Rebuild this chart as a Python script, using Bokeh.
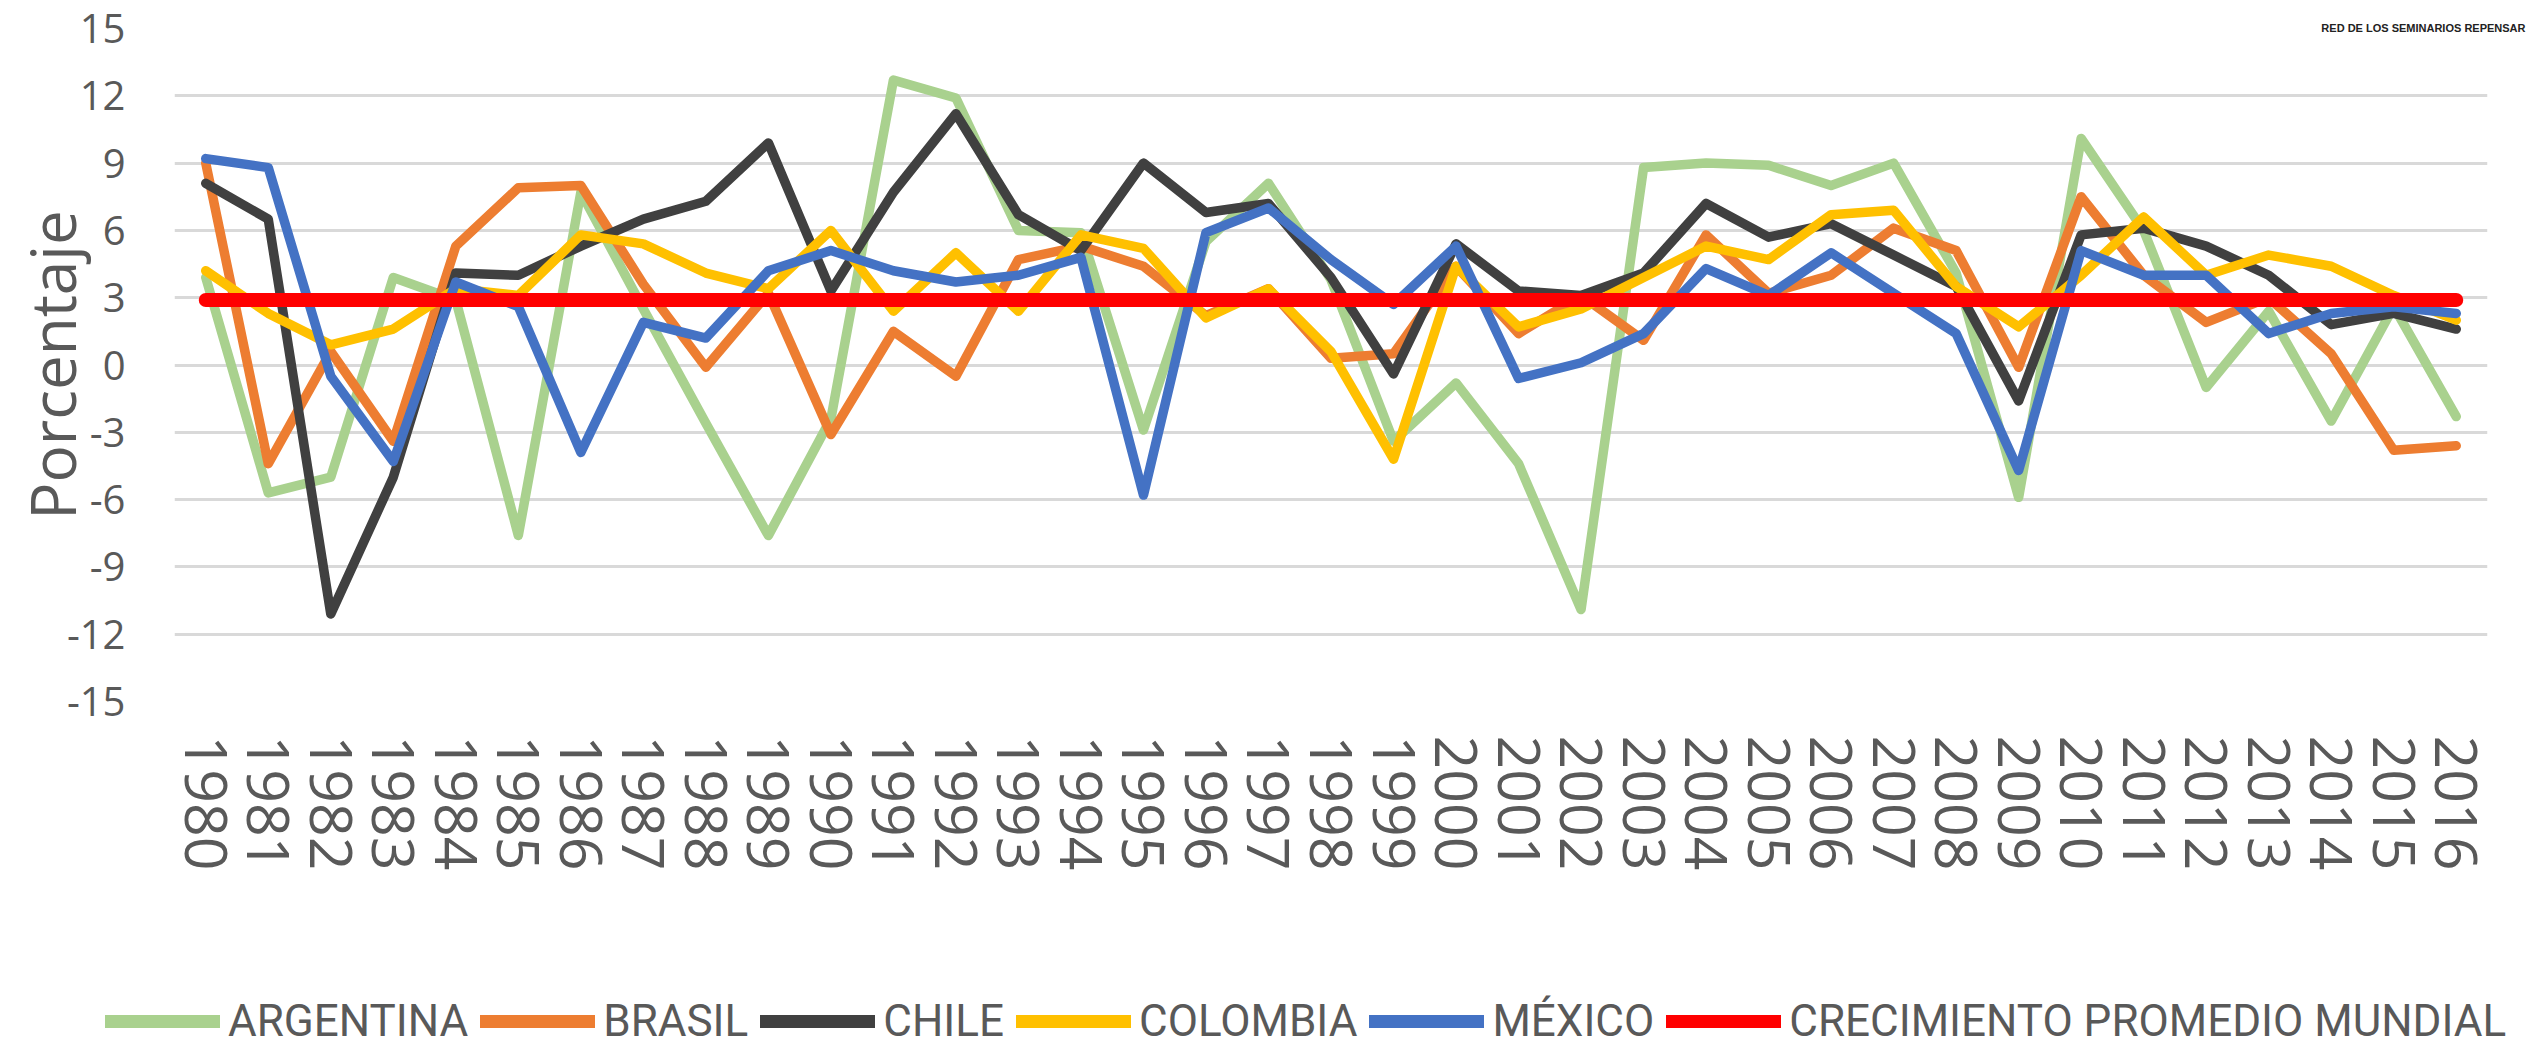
from bokeh.plotting import figure
from bokeh.layouts import column
from bokeh.models import FactorRange, Range1d, FixedTicker, Legend, LegendItem
from bokeh.embed import file_html
from bokeh.resources import INLINE

YEARS = [str(y) for y in range(1980, 2017)]

ARGENTINA = [3.9, -5.7, -5.0, 3.9, 2.9, -7.6, 7.7, 2.5, -2.6, -7.6, -2.4, 12.7, 11.9,
             6.0, 5.9, -2.9, 5.5, 8.1, 3.8, -3.4, -0.8, -4.4, -10.9, 8.8, 9.0, 8.9,
             8.0, 9.0, 4.1, -5.9, 10.1, 6.0, -1.0, 2.4, -2.5, 2.6, -2.3]
BRASIL = [9.0, -4.4, 0.6, -3.4, 5.3, 7.9, 8.0, 3.6, -0.1, 3.2, -3.1, 1.5, -0.5,
          4.7, 5.3, 4.4, 2.2, 3.4, 0.3, 0.5, 4.4, 1.4, 3.1, 1.1, 5.8, 3.2,
          4.0, 6.1, 5.1, -0.1, 7.5, 4.0, 1.9, 3.0, 0.5, -3.8, -3.6]
CHILE = [8.1, 6.5, -11.1, -5.0, 4.1, 4.0, 5.3, 6.5, 7.3, 9.9, 3.3, 7.7, 11.2,
         6.7, 5.1, 9.0, 6.8, 7.2, 3.9, -0.4, 5.4, 3.3, 3.1, 4.1, 7.2, 5.7,
         6.3, 4.9, 3.5, -1.6, 5.8, 6.1, 5.3, 4.0, 1.8, 2.3, 1.6]
COLOMBIA = [4.2, 2.3, 0.9, 1.6, 3.4, 3.1, 5.8, 5.4, 4.1, 3.4, 6.0, 2.4, 5.0,
            2.4, 5.8, 5.2, 2.1, 3.4, 0.6, -4.2, 4.4, 1.7, 2.5, 3.9, 5.3, 4.7,
            6.7, 6.9, 3.5, 1.7, 4.0, 6.6, 4.0, 4.9, 4.4, 3.1, 2.0]
MEXICO = [9.2, 8.8, -0.5, -4.3, 3.7, 2.6, -3.9, 1.9, 1.2, 4.2, 5.1, 4.2, 3.7,
          4.0, 4.8, -5.8, 5.9, 7.0, 4.7, 2.7, 5.3, -0.6, 0.1, 1.4, 4.3, 3.1,
          5.0, 3.2, 1.4, -4.7, 5.1, 4.0, 4.0, 1.4, 2.3, 2.6, 2.3]
MUNDIAL = [2.9, 2.9, 2.9, 2.9, 2.9, 2.9, 2.9, 2.9, 2.9, 2.9, 2.9, 2.9, 2.9,
           2.9, 2.9, 2.9, 2.9, 2.9, 2.9, 2.9, 2.9, 2.9, 2.9, 2.9, 2.9, 2.9,
           2.9, 2.9, 2.9, 2.9, 2.9, 2.9, 2.9, 2.9, 2.9, 2.9, 2.9]

Y_TICKS = [-15, -12, -9, -6, -3, 0, 3, 6, 9, 12, 15]
Y_TITLE = "Porcentaje"
LOGO_TEXT = "RED DE LOS SEMINARIOS REPENSAR"

SERIES = [
    ("ARGENTINA", ARGENTINA, "#A9D18E", 9.5),
    ("BRASIL", BRASIL, "#ED7D31", 9.5),
    ("CHILE", CHILE, "#404040", 9.5),
    ("COLOMBIA", COLOMBIA, "#FFC000", 9.5),
    ("MÉXICO", MEXICO, "#4472C4", 9.5),
    ("CRECIMIENTO PROMEDIO MUNDIAL", MUNDIAL, "#FF0000", 14),
]

TEXT = "#595959"

p = figure(x_range=FactorRange(*YEARS), y_range=Range1d(-15, 15),
           width=2528, height=985, output_backend="svg", toolbar_location=None,
           min_border_left=174, min_border_right=41, min_border_top=28,
           min_border_bottom=284)
p.frame_align = False
p.x_range.range_padding = 0
p.outline_line_color = None
p.background_fill_color = "white"
p.border_fill_color = "white"

# small logo caption at the top right
p.title.text = LOGO_TEXT
p.title.align = "right"
p.title.offset = -38
p.title.standoff = -10
p.title.text_font = "Liberation Sans"
p.title.text_font_style = "bold"
p.title.text_font_size = "11px"
p.title.text_color = "#222222"

p.xgrid.grid_line_color = None
p.ygrid.grid_line_color = "#D9D9D9"
p.ygrid.grid_line_width = 3

p.yaxis.ticker = FixedTicker(ticks=Y_TICKS)
p.yaxis.major_label_overrides = {t: str(t) for t in Y_TICKS}
p.yaxis.axis_line_color = None
p.yaxis.major_tick_line_color = None
p.yaxis.minor_tick_line_color = None
p.yaxis.major_tick_out = 0
p.yaxis.major_label_standoff = 49
p.yaxis.major_label_text_font = "Open Sans"
p.yaxis.major_label_text_font_size = "40px"
p.yaxis.major_label_text_color = TEXT
p.yaxis.axis_label = Y_TITLE
p.yaxis.axis_label_text_font = "Open Sans"
p.yaxis.axis_label_text_font_style = "normal"
p.yaxis.axis_label_text_font_size = "62px"
p.yaxis.axis_label_text_color = TEXT
p.yaxis.axis_label_standoff = -30

p.xaxis.axis_line_color = None
p.xaxis.major_tick_line_color = None
p.xaxis.minor_tick_line_color = None
p.xaxis.major_tick_out = 0
p.xaxis.major_label_orientation = "vertical"
p.xaxis.major_label_standoff = 34
p.xaxis.major_label_text_font = "Open Sans"
p.xaxis.major_label_text_font_size = "59px"
p.xaxis.major_label_text_color = TEXT

for name, vals, color, w in SERIES:
    p.line(x=YEARS, y=vals, line_color=color, line_width=w,
           line_cap="round", line_join="round")

# legend strip under the chart (its series sit outside its visible y range)
lf = figure(width=2528, height=62, x_range=FactorRange(*YEARS), y_range=Range1d(100, 101),
            output_backend="svg", toolbar_location=None, min_border=0,
            x_axis_location=None, y_axis_location=None)
lf.frame_align = False
lf.outline_line_color = None
lf.grid.grid_line_color = None
items = []
for name, vals, color, w in SERIES:
    r = lf.line(x=YEARS, y=vals, line_color=color, line_width=13, line_cap="round")
    items.append(LegendItem(label=name, renderers=[r]))

legend = Legend(items=items, orientation="horizontal", location=(105, 0),
                glyph_width=115, glyph_height=40, label_height=40,
                label_standoff=8, spacing=12, padding=0, margin=0,
                border_line_color=None, background_fill_alpha=0,
                label_text_font="Roboto",
                label_text_font_size="44px", label_text_color=TEXT)
lf.add_layout(legend)

layout = column(p, lf, spacing=0)
open("out.html", "w").write(file_html(layout, INLINE))
